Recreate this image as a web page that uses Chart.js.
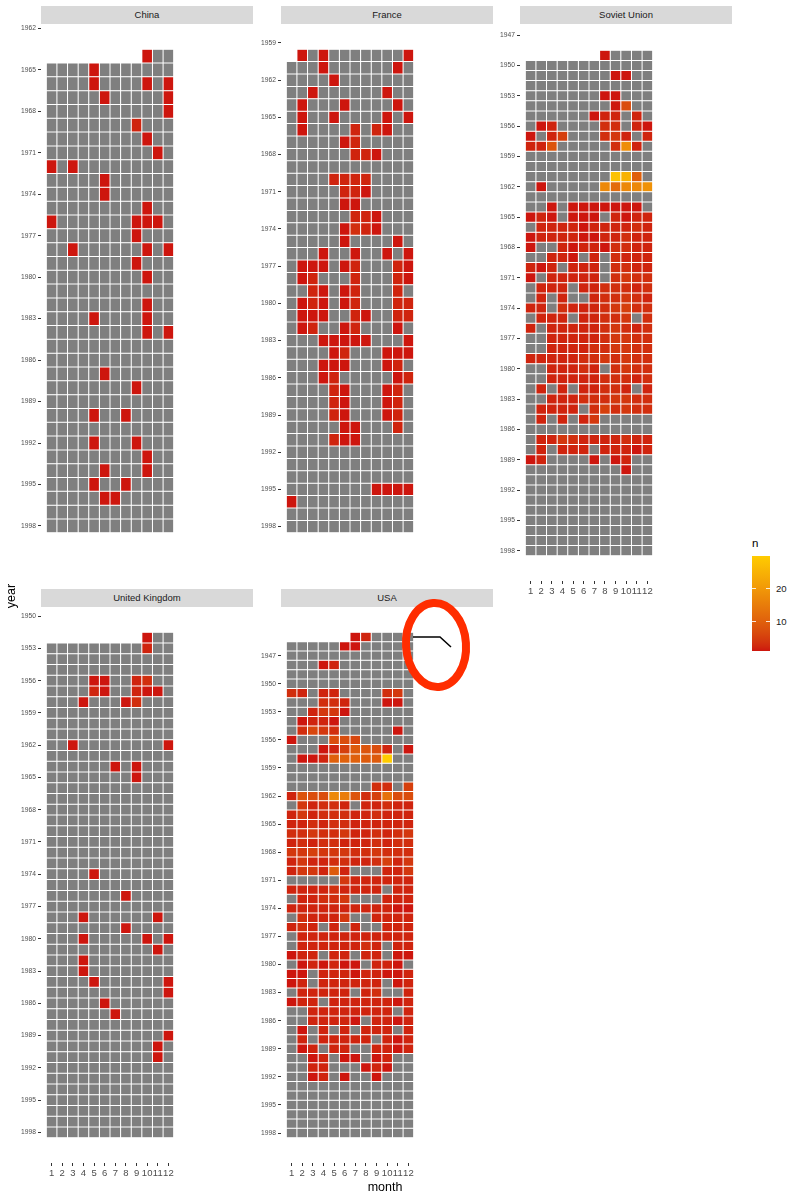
<!DOCTYPE html>
<html>
<head>
<meta charset="utf-8">
<script src="https://cdn.jsdelivr.net/npm/chart.js@4.4.1/dist/chart.umd.min.js"></script>
<style>
  html, body { margin: 0; padding: 0; background: #ffffff; }
  body { width: 800px; height: 1200px; position: relative; overflow: hidden;
         font-family: "Liberation Sans", Arial, Helvetica, sans-serif; }
  canvas { position: absolute; }
  .strip { position: absolute; width: 212px; height: 18px; background: #D9D9D9;
           color: #1A1A1A; font-size: 9.5px; line-height: 18px; text-align: center; }
  .txt { position: absolute; white-space: nowrap; }
</style>
</head>
<body>
<div class="strip" style="left:41px;top:6px;">China</div>
<div class="strip" style="left:281px;top:6px;">France</div>
<div class="strip" style="left:520px;top:6px;">Soviet Union</div>
<div class="strip" style="left:41px;top:589px;">United Kingdom</div>
<div class="strip" style="left:281px;top:589px;">USA</div>

<canvas id="cChina"  width="178" height="556" style="left:1px;top:25px;"></canvas>
<canvas id="cFrance" width="178" height="556" style="left:241px;top:25px;"></canvas>
<canvas id="cUSSR"   width="178" height="580" style="left:480px;top:25px;"></canvas>
<canvas id="cUK"     width="178" height="580" style="left:1px;top:607px;"></canvas>
<canvas id="cUSA"    width="178" height="580" style="left:241px;top:607px;"></canvas>

<div class="txt" style="left:-4px;top:589px;font-size:12.5px;color:#000;transform:rotate(-90deg);transform-origin:center;width:30px;text-align:center;line-height:14px;">year</div>
<div class="txt" style="left:350px;top:1180px;width:70px;text-align:center;font-size:12.5px;color:#000;line-height:15px;">month</div>

<div class="txt" style="left:752px;top:537px;font-size:11.5px;color:#000;line-height:13px;">n</div>
<div id="legendBar" style="position:absolute;left:752px;top:556px;width:18px;height:95px;"></div>
<div id="legendLabels"></div>

<svg width="800" height="1200" style="position:absolute;left:0;top:0;pointer-events:none;">
  <ellipse cx="436" cy="645" rx="30" ry="42" fill="none" stroke="#FF2D00" stroke-width="8" transform="rotate(-4 436 645)"/>
  <polyline points="413,637 440,637 451,647" fill="none" stroke="#000" stroke-width="1.5"/>
</svg>

<script>
// ---------------- DATA ----------------
const MONTHS = [1, 2, 3, 4, 5, 6, 7, 8, 9, 10, 11, 12];
const LAST_YEAR = 1998;

// count of tests per month, one row per year starting at the first year; [] = none
const chinaFirst = [1964, 10];
const chinaCounts = [
/*1964*/[0,0,0,0,0,0,0,0,0,1,0,0],
/*1965*/[0,0,0,0,1],
/*1966*/[0,0,0,0,1,0,0,0,0,1,0,1],
/*1967*/[0,0,0,0,0,1,0,0,0,0,0,1],
/*1968*/[0,0,0,0,0,0,0,0,0,0,0,1],
/*1969*/[0,0,0,0,0,0,0,0,2],
/*1970*/[0,0,0,0,0,0,0,0,0,1],
/*1971*/[0,0,0,0,0,0,0,0,0,0,1],
/*1972*/[1,0,1],
/*1973*/[0,0,0,0,0,1],
/*1974*/[0,0,0,0,0,1],
/*1975*/[0,0,0,0,0,0,0,0,0,1],
/*1976*/[1,0,0,0,0,0,0,0,1,1,1,0],
/*1977*/[0,0,0,0,0,0,0,0,1],
/*1978*/[0,0,1,0,0,0,0,0,0,1,0,1],
/*1979*/[0,0,0,0,0,0,0,0,1],
/*1980*/[0,0,0,0,0,0,0,0,0,1],
/*1981*/[],
/*1982*/[0,0,0,0,0,0,0,0,0,1],
/*1983*/[0,0,0,0,1,0,0,0,0,1],
/*1984*/[0,0,0,0,0,0,0,0,0,1,0,1],
/*1985*/[],
/*1986*/[],
/*1987*/[0,0,0,0,0,1],
/*1988*/[0,0,0,0,0,0,0,0,1],
/*1989*/[],
/*1990*/[0,0,0,0,1,0,0,1],
/*1991*/[],
/*1992*/[0,0,0,0,1,0,0,0,1],
/*1993*/[0,0,0,0,0,0,0,0,0,1],
/*1994*/[0,0,0,0,0,1,0,0,0,1],
/*1995*/[0,0,0,0,1,0,0,1],
/*1996*/[0,0,0,0,0,1,1],
/*1997*/[],
/*1998*/[]
];
const chinaYearTicks = [1962,1965,1968,1971,1974,1977,1980,1983,1986,1989,1992,1995,1998];

const franceFirst = [1960, 2];
const franceCounts = [
/*1960*/[0,1,0,1,0,0,0,0,0,0,0,1],
/*1961*/[0,0,0,1,0,0,0,0,0,0,1,0],
/*1962*/[0,0,0,0,1],
/*1963*/[0,0,1,0,0,0,0,0,0,1,0,0],
/*1964*/[0,1,0,0,0,1,0,0,0,0,1,0],
/*1965*/[0,1,0,0,1,0,0,0,0,1,0,1],
/*1966*/[0,1,0,0,0,0,2,0,2,1,0,0],
/*1967*/[0,0,0,0,0,1,2,0,0,0,0,0],
/*1968*/[0,0,0,0,0,0,2,2,1,0,0,0],
/*1969*/[],
/*1970*/[0,0,0,0,2,2,2,2,0,0,0,0],
/*1971*/[0,0,0,0,0,2,2,1,0,0,0,0],
/*1972*/[0,0,0,0,0,1,1,0,0,0,0,0],
/*1973*/[0,0,0,0,0,0,2,2,1,0,0,0],
/*1974*/[0,0,0,0,0,1,3,2,1,0,0,0],
/*1975*/[0,0,0,0,0,1,0,0,0,0,1,0],
/*1976*/[0,0,0,1,0,0,1,0,0,1,0,1],
/*1977*/[0,1,1,1,0,1,2,0,0,0,2,1],
/*1978*/[0,1,2,0,0,0,2,0,0,0,2,1],
/*1979*/[0,0,2,1,0,1,2,0,0,0,2,0],
/*1980*/[0,1,2,1,0,1,2,0,0,0,2,2],
/*1981*/[0,1,1,1,0,0,2,1,0,0,2,2],
/*1982*/[0,1,2,0,0,1,2,0,0,0,1,0],
/*1983*/[0,0,0,1,1,1,1,1,0,0,0,1],
/*1984*/[0,0,0,0,1,2,0,0,0,1,1,1],
/*1985*/[0,0,0,1,1,1,0,0,0,1,2,0],
/*1986*/[0,0,0,1,2,0,0,0,0,0,1,2],
/*1987*/[0,0,0,0,2,1,0,0,0,1,2,0],
/*1988*/[0,0,0,0,2,1,0,0,0,1,2,0],
/*1989*/[0,0,0,0,2,1,0,0,0,1,2,0],
/*1990*/[0,0,0,0,0,1,1,0,0,0,2,0],
/*1991*/[0,0,0,0,2,1,1,0,0,0,0,0],
/*1992*/[],
/*1993*/[],
/*1994*/[],
/*1995*/[0,0,0,0,0,0,0,0,1,1,1,1],
/*1996*/[1],
/*1997*/[],
/*1998*/[]
];
const franceYearTicks = [1959,1962,1965,1968,1971,1974,1977,1980,1983,1986,1989,1992,1995,1998];

const ussrFirst = [1949, 8];
const ussrCounts = [
/*1949*/[0,0,0,0,0,0,0,1,0,0,0,0],
/*1950*/[],
/*1951*/[0,0,0,0,0,0,0,0,1,1,0,0],
/*1952*/[],
/*1953*/[0,0,0,0,0,0,0,1,1,0,0,0],
/*1954*/[0,0,0,0,0,0,0,0,1,7,0,0],
/*1955*/[0,0,0,0,0,0,1,2,2,0,2,0],
/*1956*/[0,1,2,0,0,0,0,3,3,0,2,1],
/*1957*/[1,0,2,5,0,0,0,3,4,2,0,2],
/*1958*/[2,2,8,0,0,0,0,0,3,18,2,0],
/*1959*/[],
/*1960*/[],
/*1961*/[0,0,0,0,0,0,0,0,28,25,10,0],
/*1962*/[0,1,0,0,0,0,0,17,12,17,17,19],
/*1963*/[],
/*1964*/[0,0,1,0,1,1,1,1,1,1,1,0],
/*1965*/[1,2,1,0,1,1,1,0,2,1,2,2],
/*1966*/[0,2,2,2,2,1,2,2,2,2,3,2],
/*1967*/[1,2,2,2,2,1,1,2,2,3,2,2],
/*1968*/[1,0,0,2,1,2,2,1,3,3,2,2],
/*1969*/[0,0,2,2,1,0,2,0,3,2,2,2],
/*1970*/[2,1,2,0,2,2,2,0,3,3,2,2],
/*1971*/[1,0,2,2,2,2,2,0,3,4,3,3],
/*1972*/[0,2,2,2,0,2,2,3,3,3,2,3],
/*1973*/[0,2,0,2,0,0,2,3,3,4,3,2],
/*1974*/[2,2,0,3,2,2,2,3,4,5,3,3],
/*1975*/[0,2,2,2,0,2,2,3,3,4,0,3],
/*1976*/[2,0,2,2,2,2,2,3,4,3,2,3],
/*1977*/[0,0,2,2,2,2,2,3,4,4,3,3],
/*1978*/[0,0,2,2,2,2,3,3,4,4,3,3],
/*1979*/[2,2,2,2,2,3,3,4,3,4,3,3],
/*1980*/[0,0,2,2,2,3,2,0,3,4,3,3],
/*1981*/[0,0,2,2,2,2,2,3,3,3,2,3],
/*1982*/[0,2,0,2,0,2,2,3,3,2,0,2],
/*1983*/[0,0,2,2,2,3,3,3,4,4,3,3],
/*1984*/[0,2,2,2,2,0,3,5,3,4,3,3],
/*1985*/[0,2,0,2,0,2,4,0,0,0,0,0],
/*1986*/[],
/*1987*/[0,2,2,4,3,2,2,2,2,3,2,2],
/*1988*/[0,2,0,2,2,2,0,2,2,2,1,2],
/*1989*/[1,2,0,0,0,0,1,0,1,2,0,0],
/*1990*/[0,0,0,0,0,0,0,0,0,1,0,0],
/*1991*/[],
/*1992*/[],
/*1993*/[],
/*1994*/[],
/*1995*/[],
/*1996*/[],
/*1997*/[],
/*1998*/[]
];
const ussrYearTicks = [1947,1950,1953,1956,1959,1962,1965,1968,1971,1974,1977,1980,1983,1986,1989,1992,1995,1998];

const ukFirst = [1952, 10];
const ukCounts = [
/*1952*/[0,0,0,0,0,0,0,0,0,1,0,0],
/*1953*/[0,0,0,0,0,0,0,0,0,2,0,0],
/*1954*/[],
/*1955*/[],
/*1956*/[0,0,0,0,1,1,0,0,2,3,0,0],
/*1957*/[0,0,0,0,2,1,0,0,2,1,1,0],
/*1958*/[0,0,0,1,0,0,0,1,3,0,0,0],
/*1959*/[],
/*1960*/[],
/*1961*/[],
/*1962*/[0,0,1,0,0,0,0,0,0,0,0,1],
/*1963*/[],
/*1964*/[0,0,0,0,0,0,1,0,1,0,0,0],
/*1965*/[0,0,0,0,0,0,0,0,1,0,0,0],
/*1966*/[],
/*1967*/[],
/*1968*/[],
/*1969*/[],
/*1970*/[],
/*1971*/[],
/*1972*/[],
/*1973*/[],
/*1974*/[0,0,0,0,1],
/*1975*/[],
/*1976*/[0,0,0,0,0,0,0,1],
/*1977*/[],
/*1978*/[0,0,0,1,0,0,0,0,0,0,1,0],
/*1979*/[0,0,0,0,0,0,0,1],
/*1980*/[0,0,0,1,0,0,0,0,0,1,0,1],
/*1981*/[0,0,0,0,0,0,0,0,0,0,1,0],
/*1982*/[0,0,0,1],
/*1983*/[0,0,0,1],
/*1984*/[0,0,0,0,1,0,0,0,0,0,0,1],
/*1985*/[0,0,0,0,0,0,0,0,0,0,0,1],
/*1986*/[0,0,0,0,0,1],
/*1987*/[0,0,0,0,0,0,1],
/*1988*/[],
/*1989*/[0,0,0,0,0,0,0,0,0,0,0,1],
/*1990*/[0,0,0,0,0,0,0,0,0,0,1,0],
/*1991*/[0,0,0,0,0,0,0,0,0,0,1,0],
/*1992*/[],
/*1993*/[],
/*1994*/[],
/*1995*/[],
/*1996*/[],
/*1997*/[],
/*1998*/[]
];
const ukYearTicks = [1950,1953,1956,1959,1962,1965,1968,1971,1974,1977,1980,1983,1986,1989,1992,1995,1998];

const usaFirst = [1945, 7];
const usaCounts = [
/*1945*/[0,0,0,0,0,0,1,2,0,0,0,0],
/*1946*/[0,0,0,0,0,1,1,0,0,0,0,0],
/*1947*/[],
/*1948*/[0,0,0,1,2,0,0,0,0,0,0,0],
/*1949*/[],
/*1950*/[],
/*1951*/[3,2,0,2,2,0,0,0,0,3,4,0],
/*1952*/[0,0,0,3,3,2,0,0,0,1,1,0],
/*1953*/[0,0,2,4,4,1,0,0,0,0,0,0],
/*1954*/[0,1,2,2,1,0,0,0,0,0,0,0],
/*1955*/[0,3,6,4,3,0,0,0,0,0,1,0],
/*1956*/[1,0,0,0,7,7,6,0,0,0,0,0],
/*1957*/[0,0,0,1,2,5,9,8,7,2,0,1],
/*1958*/[0,1,1,2,10,10,10,9,9,30,0,0],
/*1959*/[],
/*1960*/[],
/*1961*/[0,0,0,0,0,0,0,0,3,3,0,5],
/*1962*/[2,8,7,7,17,15,8,3,5,13,7,7],
/*1963*/[0,4,2,3,3,2,0,2,2,3,2,2],
/*1964*/[2,4,2,3,3,3,2,2,3,2,2,2],
/*1965*/[2,2,3,2,3,3,2,2,2,2,2,2],
/*1966*/[3,3,4,3,3,4,2,2,3,2,3,4],
/*1967*/[2,3,2,3,3,2,2,2,3,2,3,3],
/*1968*/[4,4,5,4,4,4,3,3,4,3,3,3],
/*1969*/[2,4,2,2,3,3,2,2,3,5,2,4],
/*1970*/[2,4,4,2,9,2,0,0,0,2,2,4],
/*1971*/[0,0,0,0,0,4,2,2,2,2,2,2],
/*1972*/[2,2,2,2,3,2,2,2,2,0,2,2],
/*1973*/[0,2,2,3,3,4,0,0,0,2,2,2],
/*1974*/[2,2,2,2,2,2,2,2,2,2,1,1],
/*1975*/[0,3,2,2,2,4,0,0,2,2,2,2],
/*1976*/[2,3,2,0,2,0,2,0,0,2,2,2],
/*1977*/[0,2,2,2,2,2,2,2,2,2,2,2],
/*1978*/[0,2,2,2,2,2,2,3,2,0,2,2],
/*1979*/[1,2,2,0,2,2,0,2,2,0,1,1],
/*1980*/[0,1,2,1,2,1,1,0,2,2,1,0],
/*1981*/[1,1,0,2,2,2,1,2,2,1,1,2],
/*1982*/[1,2,0,2,2,2,2,2,2,0,1,2],
/*1983*/[0,2,2,2,2,2,0,2,3,0,0,2],
/*1984*/[1,2,2,0,2,2,2,2,2,2,1,2],
/*1985*/[0,0,2,2,2,2,2,2,2,2,0,2],
/*1986*/[0,0,2,2,2,2,1,0,2,2,1,2],
/*1987*/[0,1,0,2,0,2,0,2,2,2,0,2],
/*1988*/[0,2,0,2,2,2,2,2,0,2,1,2],
/*1989*/[0,1,2,0,2,2,0,0,2,2,1,2],
/*1990*/[0,0,1,2,0,1,1,0,1,2,0,0],
/*1991*/[0,0,2,2,0,0,0,1,2,1,0,0],
/*1992*/[0,0,1,2,0,1,0,0,1,0,0,0],
/*1993*/[],
/*1994*/[],
/*1995*/[],
/*1996*/[],
/*1997*/[],
/*1998*/[]
];
const usaYearTicks = [1947,1950,1953,1956,1959,1962,1965,1968,1971,1974,1977,1980,1983,1986,1989,1992,1995,1998];

const legendTicks = [10, 20];
const N_MIN = 1, N_MAX = 30;

// ---------------- COLOUR SCALE (Lab interpolation, like ggplot) ----------------
const LOW_RGB = [205, 22, 14];
const HIGH_RGB = [255, 204, 0];
const NA_COLOR = '#7F7F7F';

function s2l(c) { c /= 255; return c <= 0.04045 ? c / 12.92 : Math.pow((c + 0.055) / 1.055, 2.4); }
function l2s(c) { const v = c <= 0.0031308 ? 12.92 * c : 1.055 * Math.pow(c, 1 / 2.4) - 0.055;
  return Math.round(Math.max(0, Math.min(1, v)) * 255); }
function rgbToLab(rgb) {
  const R = s2l(rgb[0]), G = s2l(rgb[1]), B = s2l(rgb[2]);
  const X = (0.4124 * R + 0.3576 * G + 0.1805 * B) / 0.95047;
  const Y = (0.2126 * R + 0.7152 * G + 0.0722 * B);
  const Z = (0.0193 * R + 0.1192 * G + 0.9505 * B) / 1.08883;
  const f = t => t > 0.008856 ? Math.cbrt(t) : 7.787 * t + 16 / 116;
  const fx = f(X), fy = f(Y), fz = f(Z);
  return [116 * fy - 16, 500 * (fx - fy), 200 * (fy - fz)];
}
function labToRgb(lab) {
  const fy = (lab[0] + 16) / 116, fx = fy + lab[1] / 500, fz = fy - lab[2] / 200;
  const fi = t => t * t * t > 0.008856 ? t * t * t : (t - 16 / 116) / 7.787;
  const X = fi(fx) * 0.95047, Y = fi(fy), Z = fi(fz) * 1.08883;
  const R = 3.2406 * X - 1.5372 * Y - 0.4986 * Z;
  const G = -0.9689 * X + 1.8758 * Y + 0.0415 * Z;
  const B = 0.0557 * X - 0.2040 * Y + 1.0570 * Z;
  return [l2s(R), l2s(G), l2s(B)];
}
const LOW_LAB = rgbToLab(LOW_RGB), HIGH_LAB = rgbToLab(HIGH_RGB);
function fillColor(n) {
  const t = Math.max(0, Math.min(1, (n - N_MIN) / (N_MAX - N_MIN)));
  const lab = LOW_LAB.map((v, i) => v + (HIGH_LAB[i] - v) * t);
  const c = labToRgb(lab);
  return `rgb(${c[0]},${c[1]},${c[2]})`;
}

// ---------------- CHARTS ----------------
Chart.defaults.font.family = '"Liberation Sans", Arial, Helvetica, sans-serif';

function buildCells(first, counts) {
  const cells = [], colors = [];
  for (let y = first[0]; y <= LAST_YEAR; y++) {
    const row = counts[y - first[0]] || [];
    for (const m of MONTHS) {
      if (y === first[0] && m < first[1]) continue;
      const n = row[m - 1] || 0;
      cells.push({ x: m, y: [y - 0.5, y + 0.5] });
      colors.push(n > 0 ? fillColor(n) : NA_COLOR);
    }
  }
  return { cells, colors };
}

function makePanel(id, first, counts, yTicks, showX) {
  const { cells, colors } = buildCells(first, counts);
  const lo = first[0] - 0.5, hi = LAST_YEAR + 0.5, pad = 0.05 * (hi - lo);
  new Chart(document.getElementById(id), {
    type: 'bar',
    data: { datasets: [{
      data: cells,
      backgroundColor: colors,
      borderColor: 'rgba(255,255,255,0.9)',
      borderWidth: 0.5,
      borderSkipped: false,
      inflateAmount: 0,
      barPercentage: 1,
      categoryPercentage: 1
    }] },
    options: {
      responsive: false,
      animation: false,
      events: [],
      layout: { padding: 0 },
      plugins: { legend: { display: false }, tooltip: { enabled: false }, title: { display: false } },
      scales: {
        x: {
          type: 'linear', min: 0, max: 13, offset: false, display: showX,
          grid: { display: true, offset: false, drawOnChartArea: false, drawTicks: true, tickLength: 3, color: '#333333', lineWidth: 1 },
          border: { display: false },
          ticks: { autoSkip: false, maxRotation: 0, minRotation: 0, padding: 2, color: '#4D4D4D',
                   font: { size: 9.5 }, callback: v => String(v) },
          afterBuildTicks: s => { s.ticks = MONTHS.map(v => ({ value: v })); },
          afterFit: s => { s.height = 24; s.paddingLeft = 0; s.paddingRight = 0; }
        },
        y: {
          type: 'linear', reverse: true, min: lo - pad, max: hi + pad,
          grid: { display: true, drawOnChartArea: false, drawTicks: true, tickLength: 3, color: '#333333', lineWidth: 1 },
          border: { display: false },
          ticks: { autoSkip: false, padding: 2, color: '#4D4D4D', font: { size: 6.7 }, callback: v => String(v) },
          afterBuildTicks: s => { s.ticks = yTicks.map(v => ({ value: v })); },
          afterFit: s => { s.width = 40; s.paddingTop = 0; s.paddingBottom = 0; }
        }
      }
    }
  });
}

makePanel('cChina', chinaFirst, chinaCounts, chinaYearTicks, false);
makePanel('cFrance', franceFirst, franceCounts, franceYearTicks, false);
makePanel('cUSSR', ussrFirst, ussrCounts, ussrYearTicks, true);
makePanel('cUK', ukFirst, ukCounts, ukYearTicks, true);
makePanel('cUSA', usaFirst, usaCounts, usaYearTicks, true);

// ---------------- LEGEND (colour bar) ----------------
(function () {
  const bar = document.getElementById('legendBar');
  const stops = [];
  for (let i = 0; i <= 20; i++) {
    const n = N_MIN + (N_MAX - N_MIN) * i / 20;
    stops.push(`${fillColor(n)} ${(i * 5)}%`);
  }
  bar.style.background = `linear-gradient(to top, ${stops.join(', ')})`;
  const top = 556, h = 95, left = 752, w = 18;
  const holder = document.getElementById('legendLabels');
  legendTicks.forEach(v => {
    const y = top + h - (v - N_MIN) / (N_MAX - N_MIN) * h;
    const l1 = document.createElement('div');
    l1.style.cssText = `position:absolute;left:${left}px;top:${y - 0.5}px;width:3.6px;height:1px;background:rgba(255,255,255,0.85);`;
    const l2 = document.createElement('div');
    l2.style.cssText = `position:absolute;left:${left + w - 3.6}px;top:${y - 0.5}px;width:3.6px;height:1px;background:rgba(255,255,255,0.85);`;
    const t = document.createElement('div');
    t.className = 'txt';
    t.style.cssText += `left:${left + w + 6}px;top:${y - 6}px;font-size:9.6px;line-height:12px;color:#1A1A1A;`;
    t.textContent = String(v);
    holder.appendChild(l1); holder.appendChild(l2); holder.appendChild(t);
  });
})();
</script>
</body>
</html>
